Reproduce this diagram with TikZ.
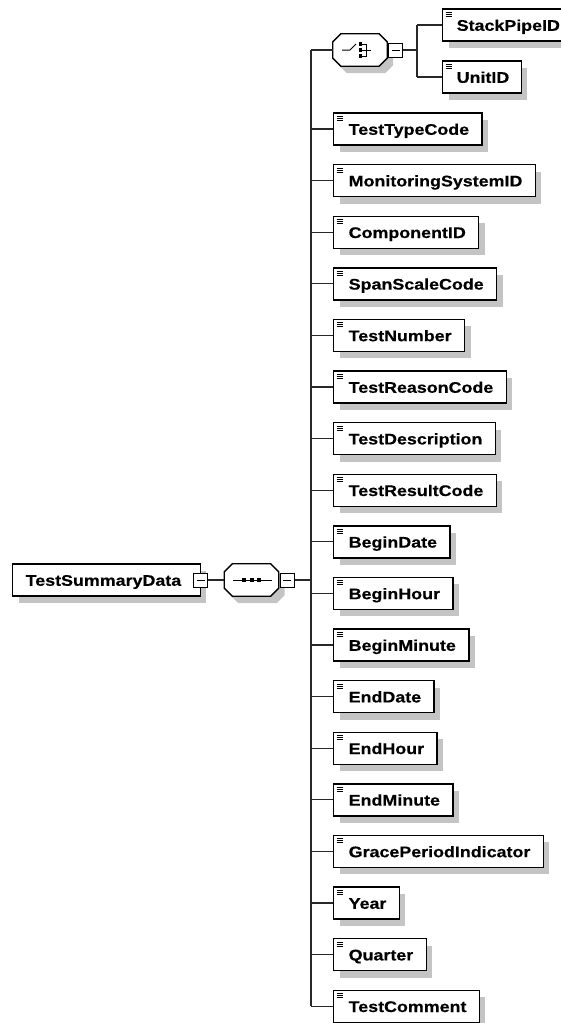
\documentclass[tikz,border=0pt]{standalone}
\usepackage{fontspec}
\newfontfamily\dfont[FakeStretch=1.16,FakeBold=0.4]{Liberation Sans}
\usetikzlibrary{shadows}
\definecolor{shgray}{RGB}{196,196,196}
\definecolor{linec}{RGB}{40,40,40}
\newcommand\octpath[1]{([xshift=8pt]#1.north west) -- ([xshift=-8pt]#1.north east) -- ([yshift=-8pt]#1.north east) -- ([yshift=8pt]#1.south east) -- ([xshift=-8pt]#1.south east) -- ([xshift=8pt]#1.south west) -- ([yshift=8pt]#1.south west) -- ([yshift=-8pt]#1.north west) -- cycle}
\tikzset{
  box/.style={draw=black, line width=1.4pt, fill=white, minimum height=32pt, inner ysep=0pt, inner xsep=0pt,
    text height=11.6pt, text depth=0pt, font=\dfont\bfseries\fontsize{15.4}{17}\selectfont,
    general shadow={fill=shgray, shadow xshift=6pt, shadow yshift=-7pt}, anchor=west},
  elem/.style={box, path picture={
      \foreach \d in {3.4,5.4,7.4}{
        \draw[line width=0.8pt, black] ([xshift=3pt,yshift=-\d pt]path picture bounding box.north west) -- ++(6pt,0pt);}}},
  minusbox/.style={draw=black, line width=1pt, fill=white, minimum width=14pt, minimum height=14pt, inner sep=0pt,
    path picture={\draw[line width=1pt] ([xshift=3pt]path picture bounding box.west) -- ([xshift=-3pt]path picture bounding box.east);}},
  octnode/.style={minimum width=54pt, minimum height=32pt, inner sep=0pt},
  conn/.style={draw=linec, line width=1.3pt},
  octline/.style={draw=black, line width=1.3pt, fill=white},
}
\begin{document}
\begin{tikzpicture}[x=1pt, y=-1pt]
\useasboundingbox (0,0) rectangle (561,1023);

% root
\node[box] (root) at (12,580) {\hspace*{13pt}TestSummaryData\hspace*{19pt}};
\node[minusbox] (rootm) at (root.east) {};

% sequence compositor
\node[octnode] (seq) at (251.5,580) {};
\fill[shgray, transform canvas={shift={(6pt,-7pt)}}] \octpath{seq};
\path[octline] \octpath{seq};
\draw[line width=1pt] (233,580) -- (272,580);
\foreach \xx in {244,251.7,259.3} \fill (\xx-2,578) rectangle (\xx+2,582);
\node[minusbox, anchor=west] (seqm) at ([xshift=1pt]seq.east) {};

\draw[conn] (rootm.east) -- (seq.west);
\coordinate (bustop) at (311,50);
\coordinate (busbot) at (311,1006.2);
\draw[conn] (seqm.east) -- (seqm.east -| bustop);
\draw[conn] (bustop) -- (busbot);

% choice compositor
\node[octnode] (cho) at (360,50) {};
\fill[shgray, transform canvas={shift={(6pt,-7pt)}}] \octpath{cho};
\path[octline] \octpath{cho};
\draw[line width=1pt] (342,50) -- (350,50) -- (356,44);
\foreach \yy in {44,50,56} \fill (358.5,\yy-1.7) rectangle (361.5,\yy+1.7);
\draw[line width=1pt] (361.5,44) -- (366,44) -- (366,56) -- (361.5,56);
\draw[line width=1pt] (361.5,50) -- (371,50);
\node[minusbox, anchor=west] (chom) at ([xshift=1pt]cho.east) {};
\draw[conn] (bustop) -- (cho.west);

\coordinate (chbr) at (417,50);
\node[elem] (StackPipeID) at (442,25) {\hspace*{14pt}StackPipeID\hspace*{5pt}};
\node[elem] (UnitID) at (442,77) {\hspace*{14pt}UnitID\hspace*{12pt}};
\draw[conn] (chom.east) -- (chbr);
\draw[conn] (chbr |- StackPipeID.west) -- (chbr |- UnitID.west);
\draw[conn] (chbr |- StackPipeID.west) -- (StackPipeID.west);
\draw[conn] (chbr |- UnitID.west) -- (UnitID.west);

% elements of the sequence
\foreach \nm [count=\i from 0] in {TestTypeCode,MonitoringSystemID,ComponentID,SpanScaleCode,TestNumber,TestReasonCode,TestDescription,TestResultCode,BeginDate,BeginHour,BeginMinute,EndDate,EndHour,EndMinute,GracePeriodIndicator,Year,Quarter,TestComment}{
  \node[elem] (\nm) at (333,129+51.6*\i) {\hspace*{15pt}\nm\hspace*{13pt}};
  \draw[conn] (\nm.west -| bustop) -- (\nm.west);
}
\end{tikzpicture}
\end{document}
